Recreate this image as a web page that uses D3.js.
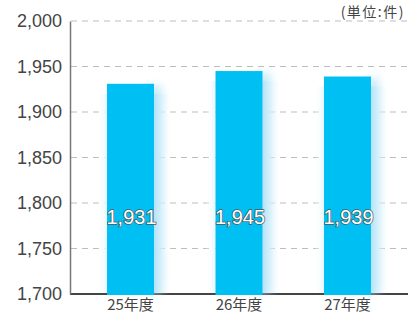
<!DOCTYPE html>
<html><head><meta charset="utf-8">
<script src="https://cdn.jsdelivr.net/npm/d3@7"></script>
<style>body{margin:0;background:#fff}svg{display:block}</style>
</head><body>
<script>
const categories = ["25年度","26年度","27年度"];
const values = [1931,1945,1939];
const valueLabels = ["1,931","1,945","1,939"];
const yTicks = [1700,1750,1800,1850,1900,1950,2000];
const unitLabel = "(単位:件)";

(function(){
const W=416,H=313;
const svg=d3.select("body").append("svg").attr("width",W).attr("height",H);
const defs=svg.append("defs");
const f=defs.append("filter").attr("id","glow").attr("x","-50%").attr("y","-50%").attr("width","200%").attr("height","200%");
f.append("feGaussianBlur").attr("stdDeviation",4);
const g2=defs.append("linearGradient").attr("id","sh").attr("x1","0").attr("x2","1");
g2.append("stop").attr("offset","0").attr("stop-color","#b3e3f7");
g2.append("stop").attr("offset","1").attr("stop-color","#ffffff").attr("stop-opacity",0);
const g3=defs.append("linearGradient").attr("id","shl").attr("x1","1").attr("x2","0");
g3.append("stop").attr("offset","0").attr("stop-color","#e8f6fc");
g3.append("stop").attr("offset","1").attr("stop-color","#ffffff").attr("stop-opacity",0);

const mL=71,mR=408,mT=21,mB=294;
const y=d3.scaleLinear().domain([1700,2000]).range([mB,mT]);
const x=d3.scaleBand().domain(categories).range([71,407]).paddingInner(0.5668).paddingOuter(0.332);
const font="Liberation Sans, Arial, sans-serif";

svg.append("g").selectAll("line").data(yTicks.slice(1)).join("line")
  .attr("x1",mL).attr("x2",mR).attr("y1",d=>y(d)).attr("y2",d=>y(d))
  .attr("stroke","#bdbdbd").attr("stroke-dasharray","6,5").attr("stroke-width",1);

svg.append("line").attr("x1",mL-1).attr("x2",mR).attr("y1",mB).attr("y2",mB).attr("stroke","#444").attr("stroke-width",2);

svg.append("g").selectAll("rect").data(values).join("rect")
  .attr("x",(d,i)=>x(categories[i])+x.bandwidth()-6)
  .attr("y",d=>y(d)+2).attr("width",14).attr("height",d=>mB-y(d)-4)
  .attr("fill","#c6eaf9").attr("filter","url(#glow)");
svg.append("g").selectAll("rect").data(values).join("rect")
  .attr("x",(d,i)=>x(categories[i])+x.bandwidth())
  .attr("y",d=>y(d)+10).attr("width",18).attr("height",d=>mB-y(d)-11)
  .attr("fill","url(#sh)");
svg.append("g").selectAll("rect").data(values).join("rect")
  .attr("x",(d,i)=>x(categories[i])-10)
  .attr("y",d=>y(d)+10).attr("width",10).attr("height",d=>mB-y(d)-11)
  .attr("fill","url(#shl)");

svg.append("g").selectAll("rect").data(values).join("rect")
  .attr("x",(d,i)=>x(categories[i])).attr("width",x.bandwidth())
  .attr("y",d=>y(d)).attr("height",d=>mB-y(d)+1)
  .attr("fill","#00bff2");

svg.append("g").selectAll("text").data(values).join("text")
  .attr("x",(d,i)=>x(categories[i])+x.bandwidth()/2+1).attr("y",y(1800)+21)
  .attr("text-anchor","middle").attr("font-family",font)
  .attr("font-size",20)
  .attr("fill","#fff").attr("stroke","#555").attr("stroke-width",1.4).attr("paint-order","stroke")
  .text((d,i)=>valueLabels[i]);

const ya=d3.axisLeft(y).tickValues(yTicks).tickSize(0).tickPadding(8).tickFormat(d3.format(","));
const yg=svg.append("g").attr("transform",`translate(${mL-1},0)`).call(ya);
yg.select(".domain").attr("stroke","#777").attr("stroke-width",1.5);
yg.selectAll("text").attr("font-family",font).attr("font-size",18).attr("fill","#444").attr("dy","0.33em");

const xa=d3.axisBottom(x).tickSize(0).tickPadding(0);
const xg=svg.append("g").attr("transform",`translate(0,${mB})`).call(xa);
xg.select(".domain").remove();
xg.selectAll("text").attr("font-family","Noto Sans CJK JP, sans-serif").attr("font-size",15).attr("fill","#444").attr("dy","1.05em");

svg.append("text").attr("x",405).attr("y",17).attr("text-anchor","end")
  .attr("font-family","Noto Sans CJK JP, sans-serif").attr("font-size",14).attr("letter-spacing","1.5").attr("fill","#444").text(unitLabel);
})();
</script>
</body></html>
